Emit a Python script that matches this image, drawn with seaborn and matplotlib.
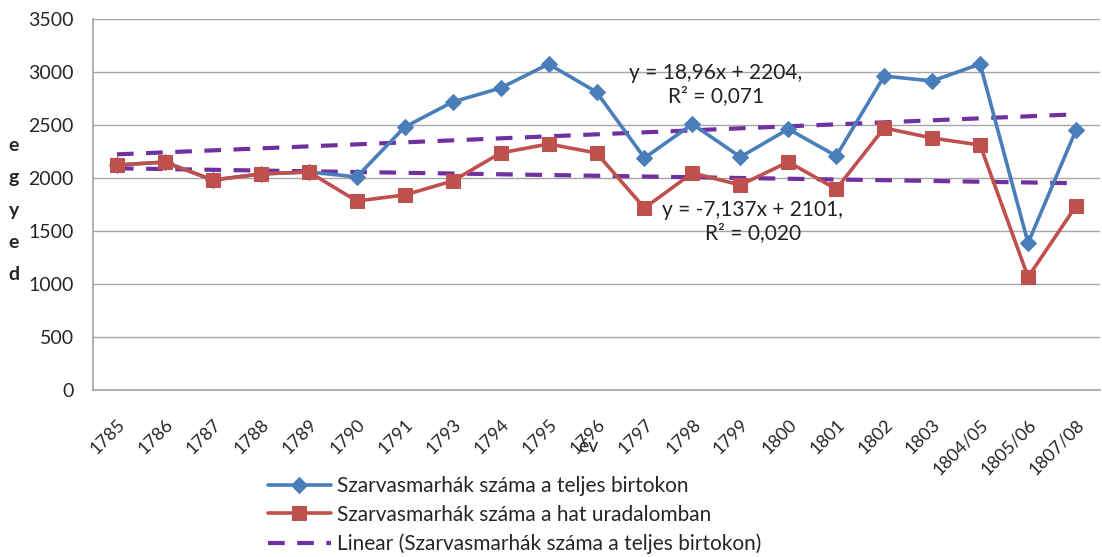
import numpy as np
import pandas as pd
import matplotlib
matplotlib.use("Agg")
import matplotlib.pyplot as plt
import seaborn as sns

# values
years = ["1785", "1786", "1787", "1788", "1789", "1790", "1791", "1793", "1794",
         "1795", "1796", "1797", "1798", "1799", "1800", "1801", "1802", "1803",
         "1804/05", "1805/06", "1807/08"]
teljes = [2123, 2150, 1981, 2038, 2057, 2010, 2481, 2717, 2849, 3075, 2811,
          2189, 2509, 2198, 2462, 2208, 2962, 2915, 3075, 1387, 2453]
hat = [2123, 2150, 1981, 2038, 2057, 1783, 1840, 1972, 2236, 2321, 2236,
       1717, 2047, 1934, 2151, 1896, 2472, 2377, 2311, 1066, 1736]

name_teljes = "Szarvasmarhák száma a teljes birtokon"
name_hat = "Szarvasmarhák száma a hat uradalomban"

BLUE = "#4A7EBB"
RED = "#C0504D"
PURPLE = "#7030A0"
GRID = "#A6A6A6"

sns.set_theme(style="white")
plt.rcParams['font.family'] = ['Lato', 'DejaVu Sans']

idx = np.arange(len(years))
df = pd.DataFrame({"i": idx, "teljes": teljes, "hat": hat})

fig = plt.figure(figsize=(11.02, 5.57), dpi=100)
ax = fig.add_axes([93 / 1102, 1 - 390 / 557, 1007 / 1102, 371 / 557])

# linear trend lines (Excel style, x = 1..n)
xs = idx + 1
k1, b1 = np.polyfit(xs, teljes, 1)
k2, b2 = np.polyfit(xs, hat, 1)
df["trend_teljes"] = k1 * xs + b1
df["trend_hat"] = k2 * xs + b2

sns.lineplot(data=df, x="i", y="teljes", ax=ax, color=BLUE, lw=2.6,
             marker="D", markersize=8, markeredgecolor=BLUE,
             label=name_teljes, zorder=3)
sns.lineplot(data=df, x="i", y="hat", ax=ax, color=RED, lw=2.6,
             marker="s", markersize=10, markeredgecolor=RED,
             label=name_hat, zorder=4)
sns.lineplot(data=df, x="i", y="trend_teljes", ax=ax, color=PURPLE, lw=3,
             label="Linear (" + name_teljes + ")", zorder=2)
sns.lineplot(data=df, x="i", y="trend_hat", ax=ax, color=PURPLE, lw=3,
             label="_nolegend_", zorder=2)
for l in ax.lines[2:]:
    l.set_dashes((4, 3))

ax.set_xlim(-0.5, len(years) - 0.5)
ax.set_ylim(0, 3500)
ax.set_yticks(range(0, 3501, 500))
ax.set_xticks(idx)
ax.set_xticklabels(years, rotation=45, ha="right", rotation_mode="anchor",
                   fontsize=13)
ax.set_xticks(np.arange(-0.5, len(years), 1), minor=True)
ax.tick_params(axis="x", which="major", length=0, pad=19)
ax.tick_params(axis="x", which="minor", length=5, color=GRID, width=1)
ax.tick_params(axis="y", labelsize=14, length=5, color=GRID, pad=9)
ax.yaxis.grid(True, color=GRID, lw=1)
ax.xaxis.grid(False)
for s in ["top", "right"]:
    ax.spines[s].set_visible(False)
for s in ["left", "bottom"]:
    ax.spines[s].set_color(GRID)
ax.set_xlabel("")
ax.set_ylabel("")

ax.text(12.49, 2882,
        "y = 18,96x + 2204,\nR² = 0,071", ha="center", va="center",
        fontsize=15, linespacing=1.15, color="#222222")
ax.text(13.26, 1590,
        "y = -7,137x + 2101,\nR² = 0,020", ha="center", va="center",
        fontsize=15, linespacing=1.15, color="#222222")

fig.text(14 / 1102, 1 - 210 / 557, "e\ng\ny\ne\nd", ha="center", va="center",
         fontsize=14, fontweight="bold", linespacing=2.08)
fig.text(588 / 1102, 1 - 447 / 557, "év", ha="center", va="center",
         fontsize=14)

ax.get_legend().remove()
fig.legend(*ax.get_legend_handles_labels(), loc="upper left",
           bbox_to_anchor=(268 / 1102, 1 - 476 / 557),
           frameon=False, fontsize=15, handlelength=3.0,
           labelspacing=0.42, handletextpad=0.3, borderaxespad=0,
           borderpad=0)

fig.savefig("out.png", dpi=100)
